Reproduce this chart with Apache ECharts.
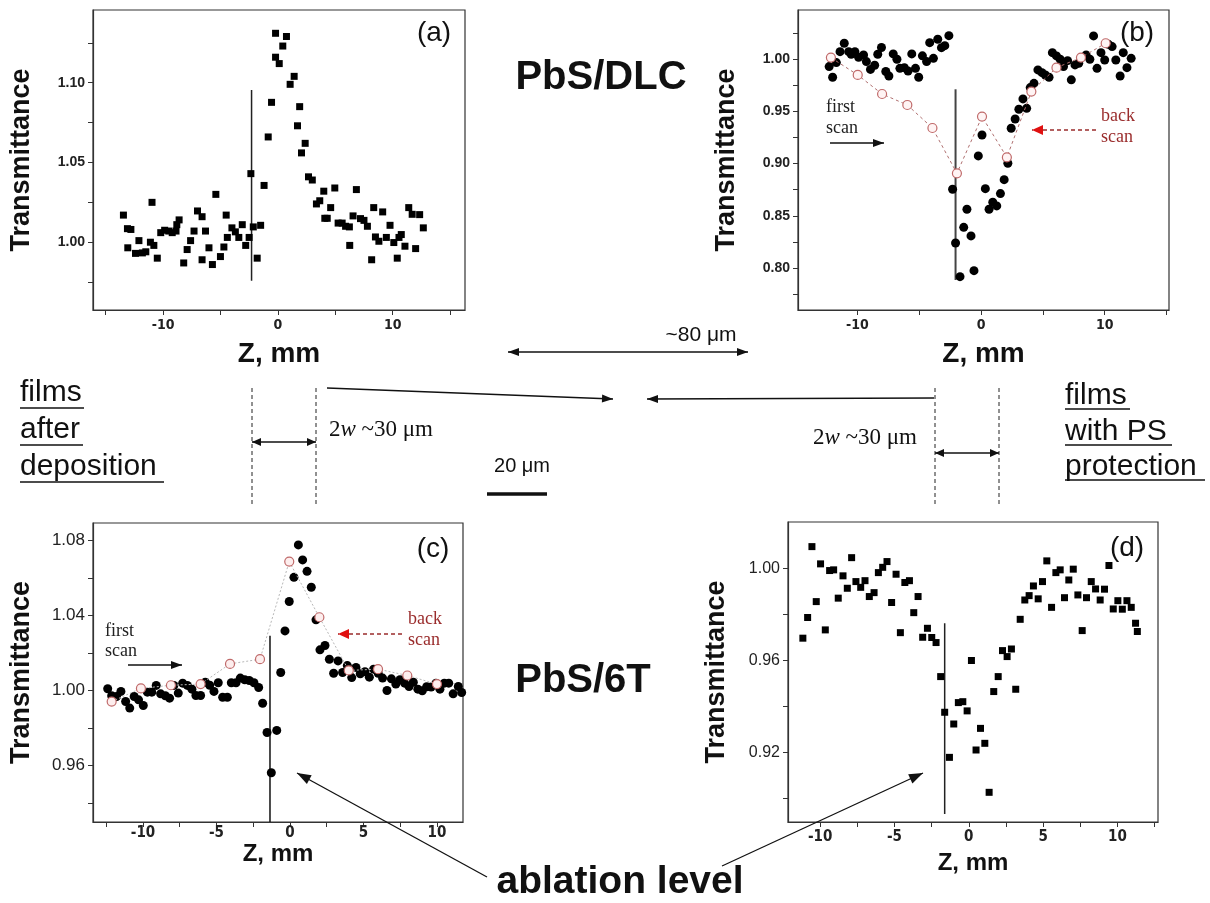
<!DOCTYPE html>
<html><head><meta charset="utf-8">
<script src="https://cdn.jsdelivr.net/npm/echarts@6/dist/echarts.min.js"></script>
<style>html,body{margin:0;padding:0;background:#fff}#c{width:1210px;height:903px}</style>
</head><body><div id="c"></div>
<script>
// ---------- data (Z in mm, Transmittance) ----------
const panelA = [[-13.45,1.017],[-13.1,1.0085],[-12.8,1.008],[-13.07,0.9965],[-12.4,0.993],[-12.1,1.001],[-11.8,0.9933],[-11.5,0.994],[-11.1,1.0],[-10.8,0.998],[-10.96,1.025],[-10.5,0.99],[-10.2,1.006],[-9.86,1.0075],[-9.5,1.007],[-9.2,1.006],[-8.87,1.007],[-8.8,1.011],[-8.6,1.014],[-8.2,0.987],[-7.9,0.9954],[-7.6,1.001],[-7.3,1.007],[-7.0,1.0196],[-6.6,1.016],[-6.6,0.989],[-6.3,1.007],[-6.0,0.9965],[-5.7,0.986],[-5.4,1.030],[-5.0,0.991],[-4.7,0.997],[-4.5,1.017],[-4.4,1.003],[-4.0,1.009],[-3.7,1.0065],[-3.4,1.003],[-3.1,1.011],[-2.8,0.998],[-2.5,1.003],[-2.35,1.043],[-2.14,1.0096],[-1.8,0.99],[-1.5,1.0106],[-1.2,1.0356],[-0.84,1.066],[-0.55,1.0877],[-0.2,1.116],[-0.2,1.131],[0.12,1.112],[0.43,1.123],[0.75,1.129],[1.07,1.099],[1.42,1.104],[1.71,1.073],[1.9,1.085],[2.06,1.056],[2.38,1.062],[2.67,1.041],[3.0,1.039],[3.36,1.024],[3.65,1.026],[4.0,1.032],[4.09,1.015],[4.3,1.015],[4.6,1.0217],[4.96,1.034],[5.25,1.012],[5.6,1.012],[5.9,1.010],[6.23,1.0096],[6.26,0.998],[6.55,1.0165],[6.84,1.033],[7.2,1.0148],[7.5,1.0137],[7.8,1.010],[8.17,0.989],[8.35,1.0217],[8.5,1.0033],[8.8,1.0006],[9.13,1.019],[9.45,1.003],[9.77,1.0106],[10.1,0.9998],[10.4,0.990],[10.55,1.003],[10.75,1.0048],[11.07,0.9975],[11.4,1.0217],[11.7,1.0175],[12.0,0.996],[12.35,1.0173],[12.67,1.009]];
const panelB = [[-12.28,0.9927],[-12.0,0.9825],[-11.7,0.9965],[-11.4,1.007],[-11.06,1.015],[-10.7,1.007],[-10.5,1.0045],[-10.2,1.007],[-9.9,1.0016],[-9.5,1.0038],[-9.27,0.9975],[-8.94,0.990],[-8.6,0.994],[-8.35,1.0045],[-8.05,1.011],[-7.7,0.988],[-7.45,0.9837],[-7.1,1.0048],[-6.8,0.9997],[-6.56,0.991],[-6.2,0.9917],[-5.9,0.9885],[-5.6,1.0048],[-5.3,0.991],[-5.04,0.9825],[-4.74,1.003],[-4.4,0.9975],[-4.15,1.0156],[-3.85,1.0006],[-3.5,1.0188],[-3.2,1.0108],[-2.93,1.0127],[-2.6,1.0223],[-2.3,0.8754],[-2.06,0.8241],[-1.7,0.7919],[-1.4,0.839],[-1.14,0.8563],[-0.81,0.8308],[-0.57,0.7976],[-0.22,0.9073],[0.08,0.9273],[0.35,0.876],[0.65,0.8563],[0.95,0.863],[1.27,0.8595],[1.57,0.8713],[1.87,0.8846],[2.17,0.9003],[2.44,0.9337],[2.76,0.9426],[3.06,0.9519],[3.39,0.9618],[3.69,0.9528],[3.98,0.9726],[4.28,0.9767],[4.6,0.9895],[4.93,0.9869],[5.2,0.9847],[5.5,0.9825],[5.77,1.006],[6.1,1.0029],[6.4,0.9997],[6.67,0.9927],[7.0,0.9984],[7.3,0.980],[7.6,0.9943],[7.9,0.9959],[8.5,1.0038],[8.8,0.9997],[9.1,1.022],[9.38,0.991],[9.7,1.006],[10.0,0.999],[10.3,1.014],[10.6,1.0118],[10.9,0.999],[11.25,0.9837],[11.5,1.006],[11.8,0.9917],[12.14,1.0006]];
const backScanB = [[-12.14,1.0013],[-9.97,0.9847],[-8.0,0.9665],[-5.96,0.956],[-3.93,0.934],[-1.95,0.8907],[0.08,0.9449],[2.09,0.906],[4.07,0.9688],[6.1,0.9917],[8.08,1.0013],[10.08,1.015]];
const panelC = [[-12.4,1.0009],[-12.13,0.9972],[-11.8,0.9968],[-11.5,0.9995],[-11.18,0.9941],[-10.9,0.9906],[-10.6,0.9968],[-10.3,0.995],[-9.98,0.992],[-9.7,0.9991],[-9.4,0.9991],[-9.1,1.0027],[-8.8,0.9982],[-8.48,0.9972],[-8.19,0.9959],[-7.9,1.0027],[-7.6,0.9986],[-7.3,1.0039],[-6.98,1.0027],[-6.67,1.0007],[-6.4,0.9973],[-6.08,0.9973],[-5.76,1.0044],[-5.46,1.0028],[-5.17,0.9995],[-4.88,1.0041],[-4.58,0.9964],[-4.26,0.9964],[-3.99,1.0041],[-3.67,1.0041],[-3.38,1.0066],[-3.08,1.0057],[-2.77,1.0053],[-2.45,1.0041],[-2.13,1.0016],[-1.86,0.9932],[-1.56,0.9776],[-1.27,0.9561],[-0.9,0.9787],[-0.63,1.0096],[-0.34,1.0318],[-0.05,1.0475],[0.27,1.0604],[0.57,1.0777],[0.86,1.0697],[1.16,1.0636],[1.45,1.0551],[1.77,1.0377],[2.04,1.0217],[2.38,1.024],[2.68,1.0167],[2.97,1.0092],[3.27,1.0158],[3.58,1.0096],[3.9,1.0133],[4.2,1.0069],[4.49,1.0123],[4.78,1.0089],[5.1,1.01],[5.4,1.0071],[5.69,1.0114],[6.0,1.0092],[6.3,1.0066],[6.6,1.0],[6.9,1.0062],[7.2,1.0034],[7.48,1.0057],[7.8,1.0039],[8.1,1.0021],[8.39,1.0044],[8.7,1.0007],[9.0,0.9998],[9.3,1.002],[9.6,1.0018],[9.93,1.0039],[10.2,1.0007],[10.5,1.0039],[10.8,1.0039],[11.1,0.9982],[11.45,1.0021],[11.68,0.9989]];
const backScanC = [[-12.13,0.9941],[-10.14,1.0011],[-8.1,1.0028],[-6.08,1.0034],[-4.08,1.0142],[-2.04,1.0167],[-0.05,1.0688],[2.0,1.0391],[4.0,1.0107],[5.99,1.0114],[7.98,1.008],[10.0,1.0034]];
const panelD = [[-11.16,0.9696],[-10.84,0.9786],[-10.55,1.0094],[-10.26,0.9855],[-9.97,1.0019],[-9.65,0.9732],[-9.36,0.999],[-9.09,0.9993],[-8.78,0.987],[-8.46,0.9967],[-8.17,0.9913],[-7.88,1.0046],[-7.59,0.9942],[-7.27,0.9917],[-6.98,0.9946],[-6.69,0.9877],[-6.37,0.9894],[-6.08,0.9981],[-5.79,1.0004],[-5.5,1.0029],[-5.19,0.9851],[-4.89,0.9974],[-4.6,0.972],[-4.3,0.9938],[-3.99,0.9946],[-3.7,0.9807],[-3.41,0.9877],[-3.1,0.97],[-2.78,0.9739],[-2.49,0.9699],[-2.2,0.9677],[-1.89,0.9529],[-1.62,0.9374],[-1.3,0.9178],[-1.01,0.9323],[-0.7,0.9416],[-0.4,0.942],[-0.11,0.938],[0.18,0.9599],[0.49,0.921],[0.79,0.9304],[1.08,0.9239],[1.37,0.9026],[1.68,0.9464],[1.98,0.9529],[2.27,0.9642],[2.58,0.9616],[2.87,0.9649],[3.16,0.9474],[3.46,0.9778],[3.77,0.9862],[4.06,0.9881],[4.35,0.9923],[4.67,0.9867],[4.96,0.9942],[5.25,1.0032],[5.57,0.983],[5.86,0.9981],[6.15,0.9993],[6.44,0.9872],[6.73,0.9949],[7.03,0.9996],[7.34,0.9884],[7.63,0.9729],[7.92,0.9872],[8.24,0.9942],[8.53,0.991],[8.84,0.9862],[9.13,0.9909],[9.43,1.0012],[9.72,0.9823],[10.03,0.9859],[10.33,0.9822],[10.64,0.9859],[10.93,0.983],[11.22,0.9761],[11.34,0.9725]];
// ablation-level markers (Z, T from, T to)
const ablationA = [[-2.29,0.9758],[-2.29,1.0954]];
const ablationB = [[-2.06,0.7887],[-2.06,0.971]];
const ablationC = [[-1.36,0.9298],[-1.36,1.0292]];
const ablationD = [[-1.62,0.8932],[-1.62,0.9761]];
// tick values / labels
const ticksXab = [-15,-10,-5,0,5,10,15], labelsXab = [-10,0,10];
const ticksXcd = [-12.5,-10,-7.5,-5,-2.5,0,2.5,5,7.5,10,12.5], labelsXcd = [-10,-5,0,5,10];
const ticksYa = [0.975,1.0,1.025,1.05,1.075,1.1,1.125], labelsYa = [1.0,1.05,1.1];
const ticksYb = [0.775,0.8,0.825,0.85,0.875,0.9,0.925,0.95,0.975,1.0,1.025], labelsYb = [0.8,0.85,0.9,0.95,1.0];
const ticksYc = [0.94,0.96,0.98,1.0,1.02,1.04,1.06,1.08], labelsYc = [0.96,1.0,1.04,1.08];
const ticksYd = [0.9,0.92,0.94,0.96,0.98,1.0], labelsYd = [0.92,0.96,1.0];

const SANS = "'Liberation Sans', Arial, sans-serif";
const NARROW = "'Liberation Sans Narrow', 'DejaVu Sans Condensed', 'Liberation Sans', sans-serif";
const SERIF = "'Liberation Serif', 'Times New Roman', serif";

function xAx(gi, min, max, ticks, labels, fs, nameGap, nameFs, margin) {
  return { type:'value', gridIndex:gi, min, max, name:'Z, mm', nameLocation:'middle', nameGap,
    nameTextStyle:{fontSize:nameFs, fontWeight:'bold', color:'#111', fontFamily:SANS},
    axisLine:{show:true, onZero:false, lineStyle:{color:'#333', width:1.2}},
    axisTick:{show:true, customValues:ticks, length:5, lineStyle:{color:'#333'}},
    axisLabel:{customValues:labels, fontSize:fs, fontWeight:'bold', fontFamily:NARROW, color:'#222', margin:margin,
      formatter:v=>String(Math.round(v))},
    splitLine:{show:false} };
}
function yAx(gi, min, max, ticks, labels, fs, bold, nameGap) {
  return { type:'value', gridIndex:gi, min, max, name:'Transmittance', nameLocation:'middle', nameGap,
    nameTextStyle:{fontSize:27, fontWeight:'bold', color:'#111', fontFamily:SANS},
    axisLine:{show:true, onZero:false, lineStyle:{color:'#333', width:1.2}},
    axisTick:{show:true, customValues:ticks, length:5, lineStyle:{color:'#333'}},
    axisLabel:{customValues:labels, fontSize:fs, fontWeight:bold?'bold':'normal', fontFamily:SANS, color:'#222', margin:8,
      formatter:v=>v.toFixed(2)},
    splitLine:{show:false} };
}
function vline(i, data, color, w) {
  return {type:'line', xAxisIndex:i, yAxisIndex:i, data, symbol:'none', silent:true,
    lineStyle:{color, width:w}, z:3};
}

// ---------- annotation helpers (pixel layout) ----------
function head(x, y, ang, color, len, w) {
  const c = Math.cos(ang), s = Math.sin(ang);
  const bx = x - len*c, by = y - len*s;
  return {type:'polygon', z:100, shape:{points:[[x,y],[bx - w*s, by + w*c],[bx + w*s, by - w*c]]}, style:{fill:color}};
}
function arrow(x1,y1,x2,y2,opt) {
  opt = opt || {};
  const color = opt.color || '#111', len = opt.len || 10, w = opt.w || 4;
  const ang = Math.atan2(y2-y1, x2-x1);
  const out = [{type:'line', z:100, shape:{x1,y1,x2,y2}, style:{stroke:opt.lineColor||color, lineWidth:opt.lw||1.3, lineDash:opt.dash||null}}];
  out.push(head(x2,y2,ang,opt.headColor||color,len,w));
  if (opt.both) out.push(head(x1,y1,ang+Math.PI,color,len,w));
  return out;
}
function txt(x,y,text,font,fill,align,valign,extra) {
  return {type:'text', z:100, style:Object.assign({x,y,text,font,fill:fill||'#111',textAlign:align||'left',textVerticalAlign:valign||'middle'}, extra||{})};
}
function hline(x1,x2,y,w,color,dash){ return {type:'line', z:100, shape:{x1,y1:y,x2,y2:y}, style:{stroke:color||'#111', lineWidth:w||1.5, lineDash:dash||null}}; }
function vdash(x,y1,y2){ return {type:'line', z:100, shape:{x1:x,y1,x2:x,y2}, style:{stroke:'#222', lineWidth:1, lineDash:[4,3]}}; }

const BR = '#9a2c2c';
let graphics = [];
// panel letters
graphics.push(txt(434,33,'(a)','28px '+SANS,'#111','center'));
graphics.push(txt(1137,33,'(b)','28px '+SANS,'#111','center'));
graphics.push(txt(433,549,'(c)','28px '+SANS,'#111','center'));
graphics.push(txt(1127,548,'(d)','28px '+SANS,'#111','center'));
// titles
graphics.push(txt(601,78,'PbS/DLC','bold 40px '+SANS,'#111','center'));
graphics.push(txt(583,681,'PbS/6T','bold 40px '+SANS,'#111','center'));
// first/back scan (b)
graphics.push(txt(826,107,'first','18px '+SERIF,'#222'));
graphics.push(txt(826,128,'scan','18px '+SERIF,'#222'));
graphics = graphics.concat(arrow(830,143,884,143,{len:11,w:4}));
graphics.push(txt(1101,116,'back','18px '+SERIF,BR));
graphics.push(txt(1101,137,'scan','18px '+SERIF,BR));
graphics = graphics.concat(arrow(1096,130,1032,130,{lineColor:BR,headColor:'#e01010',dash:[4,3],len:11,w:5}));
// first/back scan (c)
graphics.push(txt(105,631,'first','18px '+SERIF,'#222'));
graphics.push(txt(105,651,'scan','18px '+SERIF,'#222'));
graphics = graphics.concat(arrow(128,665,182,665,{len:11,w:4}));
graphics.push(txt(408,619,'back','18px '+SERIF,BR));
graphics.push(txt(408,640,'scan','18px '+SERIF,BR));
graphics = graphics.concat(arrow(402,634,338,634,{lineColor:BR,headColor:'#e01010',dash:[4,3],len:11,w:5}));
// middle schematic
graphics.push(txt(701,335,'~80 μm','21px '+SANS,'#111','center'));
graphics = graphics.concat(arrow(508,352,748,352,{both:true,len:11,w:4}));
graphics = graphics.concat(arrow(327,388,613,399,{len:11,w:4}));
graphics = graphics.concat(arrow(934,398,647,399,{len:11,w:4}));
graphics.push(vdash(252,388,505), vdash(316,388,505), vdash(935,388,505), vdash(999,388,505));
graphics = graphics.concat(arrow(252,442,316,442,{both:true,len:9,w:4}));
graphics = graphics.concat(arrow(935,453,999,453,{both:true,len:9,w:4}));
const rich = {i:{fontStyle:'italic', fontSize:23, fontFamily:SERIF, fill:'#111'}};
graphics.push(txt(329,430,'2{i|w} ~30 μm','23px '+SERIF,'#111','left','middle',{rich}));
graphics.push(txt(917,438,'2{i|w} ~30 μm','23px '+SERIF,'#111','right','middle',{rich}));
graphics.push(txt(522,466,'20 μm','20px '+SANS,'#111','center'));
graphics.push(hline(487,547,494,3.5));
// film labels
graphics.push(txt(20,393,'films','30px '+SANS), txt(20,430,'after','30px '+SANS), txt(20,467,'deposition','30px '+SANS));
graphics.push(hline(20,84,408,1.6), hline(20,83,445,1.6), hline(20,164,482,1.6));
graphics.push(txt(1065,396,'films','30px '+SANS), txt(1065,432,'with PS','30px '+SANS), txt(1065,467,'protection','30px '+SANS));
graphics.push(hline(1065,1130,409,1.6), hline(1065,1172,445,1.6), hline(1065,1205,480,1.6));
// ablation level
graphics.push(txt(620,882,'ablation level','bold 39px '+SANS,'#111','center'));
graphics = graphics.concat(arrow(487,877,297,773,{len:14,w:5}));
graphics = graphics.concat(arrow(722,866,923,773,{len:14,w:5}));

const chart = echarts.init(document.getElementById('c'), null, {renderer:'canvas'});
chart.setOption({
  backgroundColor:'#fff',
  animation:false,
  grid:[
    {left:93, top:10, width:372, height:300, show:true, borderColor:'#333', borderWidth:1.2, containLabel:false},
    {left:798, top:10, width:371, height:300, show:true, borderColor:'#333', borderWidth:1.2, containLabel:false},
    {left:93, top:523, width:370, height:299, show:true, borderColor:'#333', borderWidth:1.2, containLabel:false},
    {left:788, top:522, width:370, height:300, show:true, borderColor:'#333', borderWidth:1.2, containLabel:false}
  ],
  xAxis:[
    xAx(0,-16.1,16.3,ticksXab,labelsXab,14,30,28,8),
    xAx(1,-14.8,15.2,ticksXab,labelsXab,14,30,28,8),
    xAx(2,-13.4,11.77,ticksXcd,labelsXcd,15,17,24,4),
    xAx(3,-12.16,12.73,ticksXcd,labelsXcd,15,29,24,8)
  ],
  yAxis:[
    yAx(0,0.9575,1.1456,ticksYa,labelsYa,14,true,58),
    yAx(1,0.760,1.0468,ticksYb,labelsYb,14,true,58),
    yAx(2,0.9298,1.0894,ticksYc,labelsYc,17,false,58),
    yAx(3,0.8897,1.0201,ticksYd,labelsYd,16,false,58)
  ],
  series:[
    {type:'scatter', xAxisIndex:0, yAxisIndex:0, data:panelA, symbol:'rect', symbolSize:7, itemStyle:{color:'#000', opacity:1}, z:4},
    vline(0, ablationA, '#222', 1.5),
    {type:'scatter', xAxisIndex:1, yAxisIndex:1, data:panelB, symbol:'circle', symbolSize:9, itemStyle:{color:'#000', opacity:1}, z:4},
    vline(1, ablationB, '#444', 2),
    {type:'line', xAxisIndex:1, yAxisIndex:1, data:backScanB, symbol:'circle', symbolSize:9, showSymbol:true,
      lineStyle:{color:'#b07070', width:1, type:[3,3]}, itemStyle:{color:'#fff4f4', borderColor:'#c06a6a', borderWidth:1.2}, z:5},
    {type:'scatter', xAxisIndex:2, yAxisIndex:2, data:panelC, symbol:'circle', symbolSize:9, itemStyle:{color:'#000', opacity:1}, z:4},
    vline(2, ablationC, '#111', 1.5),
    {type:'line', xAxisIndex:2, yAxisIndex:2, data:backScanC, symbol:'circle', symbolSize:9, showSymbol:true,
      lineStyle:{color:'#b8b8b8', width:1, type:[2,2]}, itemStyle:{color:'#fdeeee', borderColor:'#c06a6a', borderWidth:1.2}, z:5},
    {type:'scatter', xAxisIndex:3, yAxisIndex:3, data:panelD, symbol:'rect', symbolSize:7, itemStyle:{color:'#000', opacity:1}, z:4},
    vline(3, ablationD, '#222', 1.5)
  ],
  graphic:{elements:graphics}
});
</script></body></html>
